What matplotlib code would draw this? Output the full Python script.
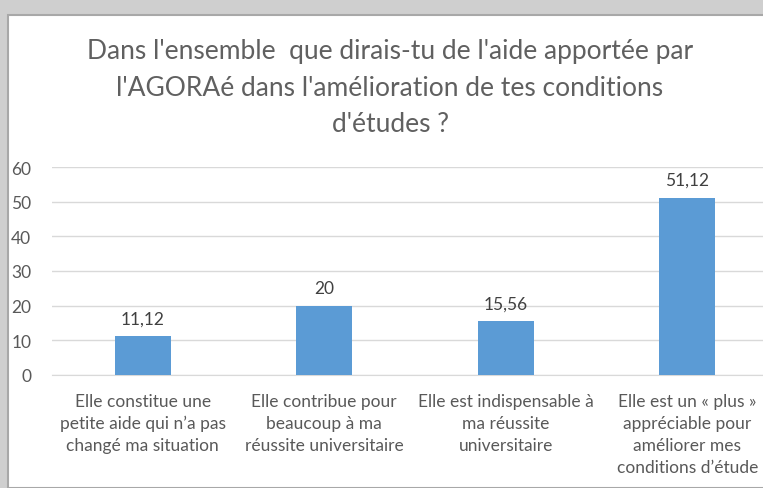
import matplotlib.pyplot as plt
from matplotlib.patches import Rectangle

categories = [
    "Elle constitue une\npetite aide qui n\u2019a pas\nchang\u00e9 ma situation",
    "Elle contribue pour\nbeaucoup \u00e0 ma\nr\u00e9ussite universitaire",
    "Elle est indispensable \u00e0\nma r\u00e9ussite\nuniversitaire",
    "Elle est un \u00ab plus \u00bb\nappr\u00e9ciable pour\nam\u00e9liorer mes\nconditions d\u2019\u00e9tude",
]
values = [11.12, 20, 15.56, 51.12]
value_labels = ["11,12", "20", "15,56", "51,12"]
yticks = [0, 10, 20, 30, 40, 50, 60]
title = ("Dans l'ensemble  que dirais-tu de l'aide apport\u00e9e par\n"
         "l'AGORA\u00e9 dans l'am\u00e9lioration de tes conditions\n"
         "d'\u00e9tudes ?")

W, H = 763, 489
text_color = '#595959'
plt.rcParams['font.family'] = ['Lato', 'DejaVu Sans']

fig = plt.figure(figsize=(W / 100, H / 100), dpi=100)
fig.patch.set_facecolor('#cfcfcf')

# white chart panel over the grey screenshot background
fig.patches.append(Rectangle((8 / W, 0), 1, (H - 16) / H,
                             transform=fig.transFigure,
                             facecolor='white', edgecolor='#a8a8a8',
                             linewidth=1.5, zorder=-5))

ax = fig.add_axes([52 / W, 113 / H, 726 / W, 208 / H])
ax.set_zorder(2)
ax.patch.set_alpha(0)
x = range(len(values))
bars = ax.bar(x, values, width=0.31, color='#5b9bd5', zorder=3)
for b, lab in zip(bars, value_labels):
    ax.annotate(lab, (b.get_x() + b.get_width() / 2, b.get_height()),
                xytext=(0, 7), textcoords='offset points',
                ha='center', va='bottom', fontsize=12.5, color='#404040')

ax.set_xlim(-0.5, len(values) - 0.5)
ax.set_ylim(0, 60)
ax.set_yticks(yticks)
ax.yaxis.grid(True, color='#d9d9d9', linewidth=1, zorder=0)
ax.set_axisbelow(True)
ax.set_xticks(list(x))
ax.set_xticklabels(categories, fontsize=12.5, color=text_color,
                   linespacing=1.45)
ax.tick_params(axis='y', labelsize=12.5, colors=text_color, length=0, pad=15)
ax.tick_params(axis='x', length=0, pad=13)
for s in ax.spines.values():
    s.set_visible(False)
ax.spines['bottom'].set_visible(True)
ax.spines['bottom'].set_color('#d9d9d9')

fig.text(390 / W, (H - 88) / H, title, ha='center', va='center',
         fontsize=19, color='#606060', linespacing=1.55)

fig.savefig('out.png', dpi=100, facecolor=fig.get_facecolor())
